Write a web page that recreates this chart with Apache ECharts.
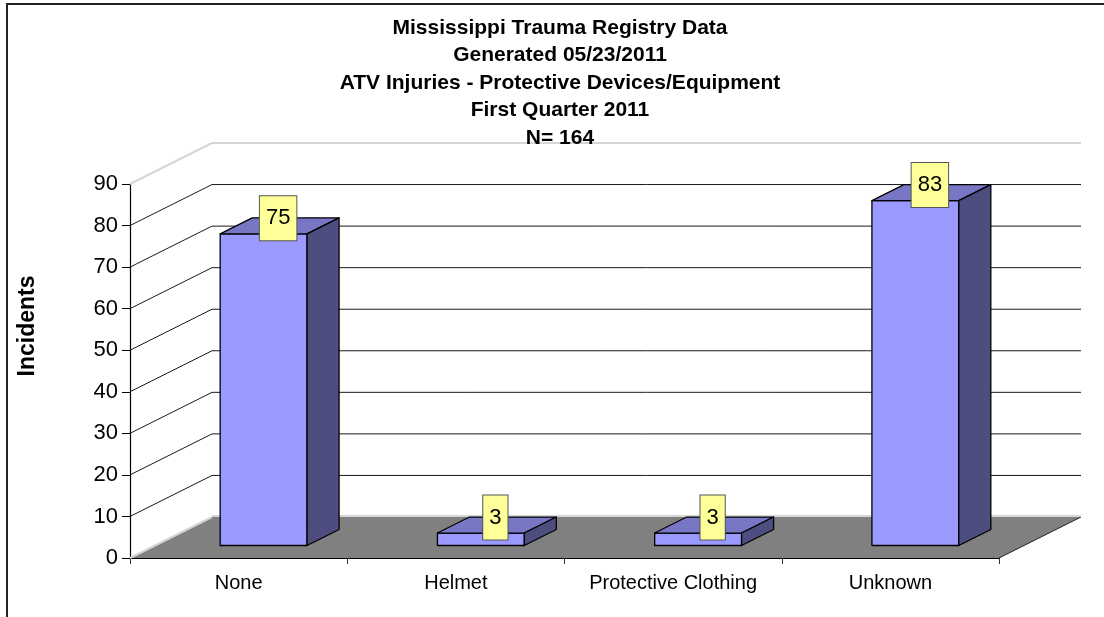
<!DOCTYPE html>
<html>
<head>
<meta charset="utf-8">
<script src="https://cdn.jsdelivr.net/npm/echarts@6/dist/echarts.min.js"></script>
<style>
  html, body { margin: 0; padding: 0; background: #fff; }
  #chart { width: 1104px; height: 617px; }
</style>
</head>
<body>
<div id="chart"></div>
<script>
// ---- data ----
const titleLines = [
  'Mississippi Trauma Registry Data',
  'Generated 05/23/2011',
  'ATV Injuries - Protective Devices/Equipment',
  'First Quarter 2011',
  'N= 164'
];
const categories = ['None', 'Helmet', 'Protective Clothing', 'Unknown'];
const incidents = [75, 3, 3, 83];
const yAxisName = 'Incidents';
const yMin = 0;
const yMax = 90;
const yStep = 10;
const gridValues = [0, 10, 20, 30, 40, 50, 60, 70, 80, 90];

// ---- 3D look (pixel offsets) ----
const DX = 82, DY = -41;      // floor / wall depth
const FX = 25, FY = -12.5;    // bar front face offset from axis plane
const BX = 32, BY = -16;      // bar depth
const FONT = '"Liberation Sans", Arial, sans-serif';

const chart = echarts.init(document.getElementById('chart'), null, { renderer: 'canvas' });

const option = {
  animation: false,
  backgroundColor: '#ffffff',
  title: {
    text: titleLines.join('\n'),
    left: 555,
    textAlign: 'center',
    top: 9,
    textStyle: {
      fontFamily: FONT, fontWeight: 'bold', fontSize: 21, lineHeight: 27.5, color: '#000'
    }
  },
  graphic: [
    {
      type: 'rect', z: 0, silent: true,
      shape: { x: 7, y: 4, width: 1200, height: 800 },
      style: { fill: 'none', stroke: '#222', lineWidth: 2 }
    },
    {
      type: 'text', x: 27.5, y: 326, rotation: Math.PI / 2, z: 10,
      style: {
        text: yAxisName, font: 'bold 23px ' + FONT, fill: '#000',
        align: 'center', verticalAlign: 'middle'
      }
    }
  ],
  grid: { left: 130, top: 184, width: 869, height: 374, containLabel: false },
  xAxis: {
    type: 'category',
    data: categories,
    boundaryGap: true,
    axisLine: { show: true, lineStyle: { color: '#000', width: 1.2 } },
    axisTick: { show: true, length: 6, lineStyle: { color: '#333' } },
    axisLabel: { color: '#000', fontFamily: FONT, fontSize: 20, margin: 15, interval: 0 },
    splitLine: { show: false }
  },
  yAxis: {
    type: 'value',
    min: yMin, max: yMax, interval: yStep,
    axisLine: { show: true, lineStyle: { color: '#000', width: 1.2 } },
    axisTick: { show: true, length: 8, lineStyle: { color: '#000' } },
    axisLabel: { color: '#000', fontFamily: FONT, fontSize: 22, margin: 12 },
    splitLine: { show: false }
  },
  series: [
    {
      // floor
      type: 'custom', z: 1, silent: true,
      data: [[0, yMin]],
      renderItem: function (params, api) {
        const cs = params.coordSys;
        const y0 = api.coord([0, yMin])[1];
        const l = cs.x, r = cs.x + cs.width;
        return {
          type: 'group',
          children: [
            { type: 'polygon',
              shape: { points: [[l, y0], [r, y0], [r + DX, y0 + DY], [l + DX, y0 + DY]] },
              style: { fill: '#808080', stroke: null } },
            { type: 'line',
              shape: { x1: r, y1: y0, x2: r + DX, y2: y0 + DY },
              style: { stroke: '#222', lineWidth: 1 } }
          ]
        };
      }
    },
    {
      // wall grid lines
      type: 'custom', z: 2, silent: true,
      data: gridValues.map(v => [0, v]),
      renderItem: function (params, api) {
        const cs = params.coordSys;
        const v = api.value(1);
        const y = api.coord([0, v])[1];
        const l = cs.x, r = cs.x + cs.width;
        const edge = (v === yMin || v === yMax);
        const col = edge ? '#D6D6D6' : '#1a1a1a';
        const lw = edge ? 2 : 1;
        const sh = (v === yMin ? 1 : 0);
        return {
          type: 'group',
          children: [
            { type: 'line', shape: { x1: l, y1: y, x2: l + DX, y2: y + DY },
              style: { stroke: col, lineWidth: lw } },
            { type: 'line', shape: { x1: l + DX, y1: y + DY - sh, x2: r + DX, y2: y + DY - sh },
              style: { stroke: col, lineWidth: lw } }
          ]
        };
      }
    },
    {
      // 3D bars with value labels
      type: 'custom', z: 3, silent: true,
      data: incidents.map((v, i) => [i, v]),
      renderItem: function (params, api) {
        const idx = api.value(0), val = api.value(1);
        const base = api.coord([idx, yMin]);
        const top = api.coord([idx, val]);
        const bw = api.size([1, 0])[0] * 0.4;
        const x0 = base[0] - bw / 2 + FX, x1 = x0 + bw;
        const yb = base[1] + FY, yt = top[1] + FY;
        const edge = { stroke: '#000', lineWidth: 1.3, lineJoin: 'round' };
        return {
          type: 'group',
          children: [
            { type: 'polygon',
              shape: { points: [[x0, yt], [x1, yt], [x1, yb], [x0, yb]] },
              style: Object.assign({ fill: '#9999FF' }, edge) },
            { type: 'polygon',
              shape: { points: [[x0, yt], [x1, yt], [x1 + BX, yt + BY], [x0 + BX, yt + BY]] },
              style: Object.assign({ fill: '#7777C6' }, edge) },
            { type: 'polygon',
              shape: { points: [[x1, yt], [x1 + BX, yt + BY], [x1 + BX, yb + BY], [x1, yb]] },
              style: Object.assign({ fill: '#4D4D80' }, edge) },
            { type: 'text',
              x: (x0 + x1) / 2 + BX / 2 - 1.5,
              y: yt + BY / 2 - 7.5,
              style: {
                text: String(val), font: '22px ' + FONT, fill: '#000',
                align: 'center', verticalAlign: 'middle', lineHeight: 22,
                backgroundColor: '#FFFF99', borderColor: '#555', borderWidth: 1,
                padding: [11, 6, 11, 6]
              } }
          ]
        };
      }
    }
  ]
};

chart.setOption(option);
</script>
</body>
</html>
